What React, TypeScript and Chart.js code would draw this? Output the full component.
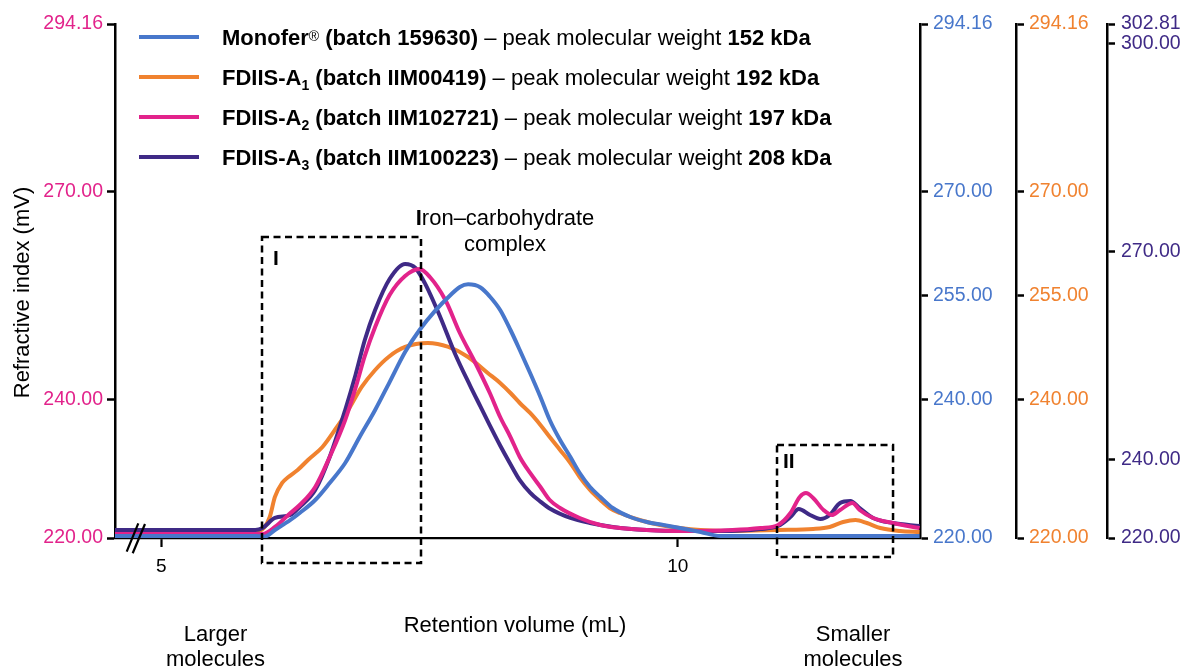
import React, { useEffect, useRef } from 'react';
import { Chart, registerables } from 'chart.js';

Chart.register(...registerables);

const FONT = '"Liberation Sans", Arial, Helvetica, sans-serif';

const BLUE = '#4877CB';
const ORANGE = '#F0822F';
const PINK = '#E2238B';
const PURPLE = '#3F2A86';

// Retention volume (mL) and refractive index signal (mV)
const monoferVolume = [4.55, 5.91, 6.0, 6.1, 6.25, 6.34, 6.49, 6.63, 6.78, 6.92, 7.07, 7.21, 7.36, 7.5, 7.65, 7.8, 7.89, 7.97, 8.09, 8.18, 8.28, 8.38, 8.47, 8.57, 8.67, 8.76, 8.86, 8.96, 9.05, 9.15, 9.25, 9.37, 9.54, 9.7, 9.86, 10.02, 10.22, 10.41, 10.8, 12.34];
const monoferSignal = [220.29, 220.29, 220.2, 221.15, 222.6, 223.61, 225.48, 227.94, 230.82, 234.57, 238.47, 242.5, 246.84, 250.01, 252.76, 255.06, 256.22, 256.6, 256.15, 254.85, 252.9, 250.01, 247.13, 243.81, 240.35, 237.03, 234.14, 231.69, 229.38, 227.36, 225.92, 224.33, 223.03, 222.31, 221.88, 221.44, 220.87, 220.29, 220.29, 220.29];

const a1Volume = [4.55, 5.91, 6.0, 6.05, 6.1, 6.17, 6.23, 6.32, 6.42, 6.56, 6.68, 6.81, 6.94, 7.07, 7.2, 7.36, 7.58, 7.78, 7.97, 8.16, 8.28, 8.38, 8.47, 8.57, 8.67, 8.76, 8.86, 8.96, 9.05, 9.15, 9.25, 9.34, 9.44, 9.63, 9.83, 10.02, 10.22, 10.5, 10.97, 11.31, 11.47, 11.6, 11.72, 11.83, 11.96, 12.15, 12.34];
const a1Signal = [220.72, 220.87, 221.59, 223.03, 225.92, 227.94, 228.8, 229.81, 231.26, 233.13, 235.58, 238.47, 241.79, 244.24, 246.12, 247.56, 248.14, 247.56, 246.12, 243.81, 242.37, 240.92, 239.48, 238.04, 236.31, 234.57, 232.7, 230.82, 228.8, 226.93, 225.48, 224.33, 223.61, 222.6, 221.88, 221.44, 221.15, 221.01, 221.15, 221.3, 221.59, 222.31, 222.6, 222.16, 221.44, 221.01, 220.87];

const a2Volume = [4.55, 5.91, 5.98, 6.1, 6.25, 6.34, 6.49, 6.63, 6.78, 6.88, 6.97, 7.07, 7.21, 7.36, 7.5, 7.6, 7.75, 7.89, 8.04, 8.18, 8.28, 8.38, 8.47, 8.57, 8.67, 8.76, 8.86, 9.05, 9.25, 9.44, 9.7, 10.02, 10.53, 10.8, 10.97, 11.09, 11.18, 11.24, 11.31, 11.41, 11.49, 11.57, 11.69, 11.76, 11.89, 12.08, 12.34];
const a2Signal = [220.58, 220.58, 220.58, 221.59, 223.61, 224.76, 227.36, 231.69, 237.03, 241.65, 246.27, 250.45, 255.06, 257.81, 258.82, 257.66, 254.34, 249.58, 245.25, 240.92, 237.46, 234.57, 231.69, 229.38, 227.36, 225.48, 224.33, 222.89, 221.88, 221.44, 221.15, 221.01, 221.15, 221.44, 221.88, 223.61, 225.92, 226.49, 225.77, 224.04, 223.32, 224.04, 225.05, 224.04, 222.89, 222.16, 221.44];

const a3Volume = [4.55, 5.91, 5.98, 6.1, 6.25, 6.34, 6.49, 6.63, 6.78, 6.88, 6.97, 7.07, 7.21, 7.36, 7.46, 7.55, 7.7, 7.84, 7.99, 8.09, 8.18, 8.28, 8.38, 8.47, 8.57, 8.67, 8.76, 8.96, 9.15, 9.37, 9.7, 10.02, 10.41, 10.8, 10.97, 11.09, 11.17, 11.28, 11.38, 11.47, 11.57, 11.67, 11.76, 11.89, 12.08, 12.34];
const a3Signal = [229.8, 229.8, 230.09, 231.54, 231.97, 233.12, 235.58, 240.34, 247.12, 252.17, 257.22, 261.55, 266.02, 268.19, 267.61, 265.45, 260.54, 255.35, 250.6, 247.6, 244.9, 242.0, 239.3, 237.0, 235.2, 233.9, 232.9, 231.54, 230.81, 230.24, 229.8, 229.66, 229.66, 229.95, 230.38, 231.68, 232.83, 231.97, 231.39, 231.97, 233.7, 233.99, 232.98, 231.54, 230.81, 230.38];

// Axes
const xMin = 4.552;
const xMax = 12.344;
const xTicks = [5, 10];
const yMin = 220;
const yMax = 294.16;
const pinkTicks = [220, 240, 270, 294.16];
const blueTicks = [220, 240, 255, 270, 294.16];
const orangeTicks = [220, 240, 255, 270, 294.16];
const purpleMin = 228.65;
const purpleMax = 302.81;
const purpleTicks = [228.65, 240, 270, 300, 302.81];
const purpleBottomLabel = '220.00';

// Highlighted regions (retention volume, signal on left axis)
const regions = [
  { label: 'I', x0: 5.975, x1: 7.514, y0: 216.39, y1: 263.43 },
  { label: 'II', x0: 10.96, x1: 12.083, y0: 217.26, y1: 233.42 },
];

type Part = [string, string];
const legendEntries: { color: string; parts: Part[] }[] = [
  { color: BLUE, parts: [['b', 'Monofer'], ['sup', '®'], ['b', ' (batch 159630)'], ['r', ' – peak molecular weight '], ['b', '152 kDa']] },
  { color: ORANGE, parts: [['b', 'FDIIS-A'], ['sub', '1'], ['b', ' (batch IIM00419)'], ['r', ' – peak molecular weight '], ['b', '192 kDa']] },
  { color: PINK, parts: [['b', 'FDIIS-A'], ['sub', '2'], ['b', ' (batch IIM102721)'], ['r', ' – peak molecular weight '], ['b', '197 kDa']] },
  { color: PURPLE, parts: [['b', 'FDIIS-A'], ['sub', '3'], ['b', ' (batch IIM100223)'], ['r', ' – peak molecular weight '], ['b', '208 kDa']] },
];

function toPoints(xs: number[], ys: number[]) {
  return xs.map((x, i) => ({ x, y: ys[i] }));
}

function drawRich(ctx: CanvasRenderingContext2D, x: number, y: number, parts: Part[]) {
  let cx = x;
  for (const [style, text] of parts) {
    let dy = 0;
    if (style === 'b') ctx.font = `bold 22px ${FONT}`;
    else if (style === 'r') ctx.font = `22px ${FONT}`;
    else if (style === 'sub') { ctx.font = `bold 14px ${FONT}`; dy = 5; }
    else { ctx.font = `14px ${FONT}`; dy = -4; }
    ctx.fillText(text, cx, y + dy);
    cx += ctx.measureText(text).width;
  }
}

const overlayPlugin = {
  id: 'overlay',
  afterDatasetsDraw(chart: any) {
    const { ctx, chartArea, scales } = chart;
    const xs = scales.x;
    const ys = scales.y;
    ctx.save();
    ctx.fillStyle = '#000';
    ctx.textAlign = 'left';
    ctx.textBaseline = 'alphabetic';

    // dashed regions
    regions.forEach((r, i) => {
      const l = xs.getPixelForValue(r.x0);
      const rt = xs.getPixelForValue(r.x1);
      const t = ys.getPixelForValue(r.y1);
      const b = ys.getPixelForValue(r.y0);
      ctx.setLineDash([7, 4.5]);
      ctx.lineWidth = 2.5;
      ctx.strokeStyle = '#000';
      ctx.strokeRect(l, t, rt - l, b - t);
      ctx.setLineDash([]);
      ctx.font = `bold 21px ${FONT}`;
      if (i === 0) {
        ctx.fillText(r.label, l + 11, t + 28);
        // Iron–carbohydrate complex label
        const cx = rt + 84;
        ctx.font = `bold 22px ${FONT}`;
        const wI = ctx.measureText('I').width;
        ctx.font = `22px ${FONT}`;
        const wRest = ctx.measureText('ron–carbohydrate').width;
        const startX = cx - (wI + wRest) / 2;
        ctx.textAlign = 'left';
        ctx.font = `bold 22px ${FONT}`;
        ctx.fillText('I', startX, t - 12);
        ctx.font = `22px ${FONT}`;
        ctx.fillText('ron–carbohydrate', startX + wI, t - 12);
        ctx.textAlign = 'center';
        ctx.fillText('complex', cx, t + 14);
        ctx.textAlign = 'left';
      } else {
        ctx.fillText(r.label, l + 6, t + 23);
      }
    });

    // axis break mark
    ctx.strokeStyle = '#000';
    ctx.lineWidth = 2.2;
    const bx = chartArea.left;
    const by = chartArea.bottom;
    ctx.beginPath();
    ctx.moveTo(bx + 11.7, by + 13.7);
    ctx.lineTo(bx + 23.3, by - 14.7);
    ctx.moveTo(bx + 17.7, by + 15.3);
    ctx.lineTo(bx + 30, by - 14);
    ctx.stroke();

    // legend
    legendEntries.forEach((e, i) => {
      const ly = chartArea.top + 13 + 40 * i;
      ctx.strokeStyle = e.color;
      ctx.lineWidth = 4;
      ctx.beginPath();
      ctx.moveTo(chartArea.left + 24, ly);
      ctx.lineTo(chartArea.left + 84, ly);
      ctx.stroke();
      ctx.fillStyle = '#000';
      drawRich(ctx, chartArea.left + 107, ly + 8, e.parts);
    });

    // axis titles and annotations
    ctx.fillStyle = '#000';
    ctx.font = `22px ${FONT}`;
    ctx.textAlign = 'center';
    ctx.fillText('Retention volume (mL)', 515, 632);
    ctx.fillText('Larger', 215.5, 641);
    ctx.fillText('molecules', 215.5, 666);
    ctx.fillText('Smaller', 853, 641);
    ctx.fillText('molecules', 853, 666);

    ctx.save();
    ctx.translate(29, 292.5);
    ctx.rotate(-Math.PI / 2);
    ctx.fillText('Refractive index (mV)', 0, 0);
    ctx.restore();

    ctx.restore();
  },
};

const tickFont = { family: FONT, size: 19.5 };

function yAxis(opts: any) {
  const { ticks, color, position, width, weight, min, max, padding, label } = opts;
  return {
    type: 'linear',
    position,
    weight,
    min,
    max,
    afterBuildTicks: (s: any) => {
      s.ticks = ticks.map((v: number) => ({ value: v }));
    },
    afterFit: (s: any) => {
      s.width = width;
    },
    grid: { drawOnChartArea: false, drawTicks: true, tickLength: 8, tickWidth: 2.5, tickColor: '#000' },
    border: { display: true, color: '#000', width: 2.5 },
    ticks: {
      color,
      font: tickFont,
      padding,
      autoSkip: false,
      callback: label || ((v: any) => Number(v).toFixed(2)),
    },
  };
}

export default function App() {
  const canvasRef = useRef<HTMLCanvasElement | null>(null);

  useEffect(() => {
    if (!canvasRef.current) return;
    const common = { borderWidth: 4, pointRadius: 0, fill: false, cubicInterpolationMode: 'monotone' as const };
    const chart = new Chart(canvasRef.current, {
      type: 'line',
      data: {
        datasets: [
          { ...common, label: 'Monofer', data: toPoints(monoferVolume, monoferSignal), borderColor: BLUE, yAxisID: 'y2' },
          { ...common, label: 'FDIIS-A2', data: toPoints(a2Volume, a2Signal), borderColor: PINK, yAxisID: 'y' },
          { ...common, label: 'FDIIS-A3', data: toPoints(a3Volume, a3Signal), borderColor: PURPLE, yAxisID: 'y4' },
          { ...common, label: 'FDIIS-A1', data: toPoints(a1Volume, a1Signal), borderColor: ORANGE, yAxisID: 'y3' },
        ],
      },
      options: {
        animation: false,
        responsive: false,
        layout: { padding: { top: 24, left: 0, right: 0, bottom: 0 } },
        plugins: { legend: { display: false }, tooltip: { enabled: false } },
        scales: {
          x: {
            type: 'linear',
            position: 'bottom',
            min: xMin,
            max: xMax,
            afterBuildTicks: (s: any) => {
              s.ticks = xTicks.map((v) => ({ value: v }));
            },
            afterFit: (s: any) => {
              s.height = 131;
            },
            grid: { drawOnChartArea: false, drawTicks: true, tickLength: 9, tickWidth: 2.2, tickColor: '#000' },
            border: { display: true, color: '#000', width: 2.2 },
            ticks: { color: '#000', font: { family: FONT, size: 19 }, padding: 8, maxRotation: 0, autoSkip: false, callback: (v: any) => String(v) },
          },
          y: yAxis({ ticks: pinkTicks, color: PINK, position: 'left', width: 115, weight: 0, min: yMin, max: yMax, padding: 4 }),
          y2: yAxis({ ticks: blueTicks, color: BLUE, position: 'right', width: 96, weight: 1, min: yMin, max: yMax, padding: 5 }),
          y3: yAxis({ ticks: orangeTicks, color: ORANGE, position: 'right', width: 91, weight: 2, min: yMin, max: yMax, padding: 5 }),
          y4: yAxis({
            ticks: purpleTicks, color: PURPLE, position: 'right', width: 77, weight: 3, min: purpleMin, max: purpleMax, padding: 6,
            label: (v: any) => (Math.abs(Number(v) - purpleMin) < 1e-6 ? purpleBottomLabel : Number(v).toFixed(2)),
          }),
        } as any,
      },
      plugins: [overlayPlugin],
    });
    return () => chart.destroy();
  }, []);

  return (
    <div style={{ position: 'absolute', left: 0, top: 0, width: 1184, height: 669, background: '#fff' }}>
      <canvas ref={canvasRef} width={1184} height={669} style={{ display: 'block' }} />
    </div>
  );
}
